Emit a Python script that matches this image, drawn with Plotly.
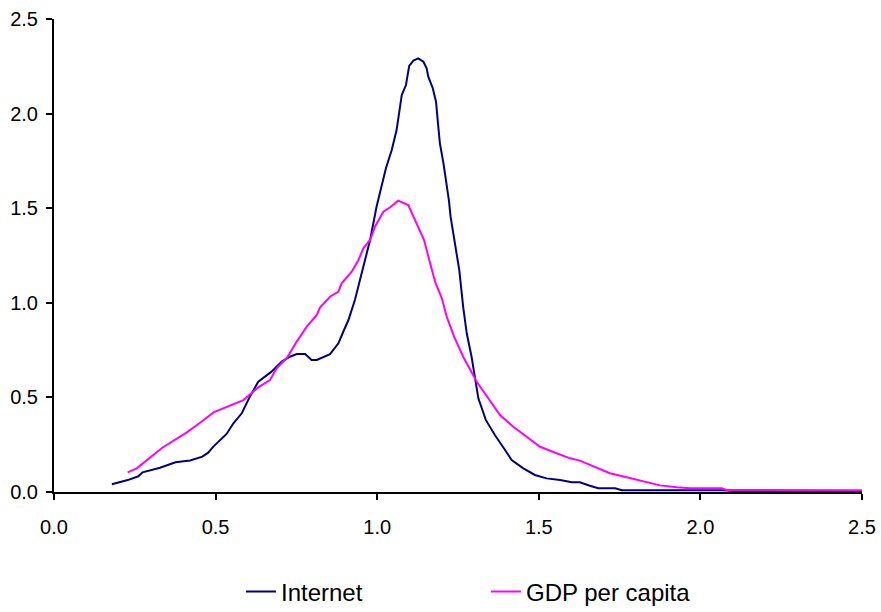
import plotly.graph_objects as go

# Internet
internet_x = [0.179, 0.228, 0.261, 0.274, 0.328, 0.376, 0.421, 0.459, 0.477, 0.493,
              0.534, 0.555, 0.581, 0.606, 0.632, 0.673, 0.705, 0.730, 0.751, 0.777,
              0.797, 0.813, 0.854, 0.880, 0.895, 0.911, 0.931, 0.947, 0.978, 0.998,
              1.019, 1.027, 1.045, 1.060, 1.076, 1.089, 1.099, 1.112, 1.127, 1.143,
              1.153, 1.158, 1.172, 1.182, 1.189, 1.194, 1.205, 1.215, 1.222, 1.227,
              1.241, 1.254, 1.266, 1.277, 1.292, 1.306, 1.313, 1.336, 1.364, 1.392,
              1.416, 1.452, 1.488, 1.524, 1.566, 1.602, 1.627, 1.658, 1.684, 1.736,
              1.757, 2.071, 2.100, 2.500]
internet_y = [0.041, 0.063, 0.083, 0.104, 0.128, 0.157, 0.167, 0.187, 0.208, 0.240,
              0.307, 0.363, 0.416, 0.504, 0.583, 0.636, 0.689, 0.715, 0.729, 0.729,
              0.698, 0.698, 0.729, 0.786, 0.847, 0.909, 1.015, 1.121, 1.332, 1.508,
              1.649, 1.711, 1.808, 1.913, 2.098, 2.151, 2.252, 2.280, 2.292, 2.274,
              2.239, 2.195, 2.134, 2.063, 1.931, 1.843, 1.737, 1.632, 1.540, 1.455,
              1.297, 1.173, 0.979, 0.839, 0.715, 0.583, 0.495, 0.381, 0.301, 0.231,
              0.169, 0.125, 0.090, 0.072, 0.063, 0.051, 0.051, 0.033, 0.020, 0.020,
              0.009, 0.009, 0.005, 0.005]

# GDP per capita
gdp_x = [0.228, 0.256, 0.335, 0.411, 0.452, 0.495, 0.586, 0.632, 0.668, 0.689,
         0.722, 0.751, 0.782, 0.813, 0.823, 0.854, 0.880, 0.890, 0.921, 0.942,
         0.957, 0.978, 0.993, 1.019, 1.040, 1.065, 1.096, 1.117, 1.145, 1.161,
         1.179, 1.200, 1.215, 1.238, 1.266, 1.308, 1.349, 1.380, 1.421, 1.463,
         1.504, 1.555, 1.597, 1.627, 1.669, 1.720, 1.772, 1.823, 1.875, 1.927,
         1.968, 2.066, 2.081, 2.500]
gdp_y = [0.104, 0.125, 0.234, 0.315, 0.366, 0.422, 0.486, 0.553, 0.592, 0.654,
         0.712, 0.795, 0.874, 0.936, 0.975, 1.032, 1.059, 1.103, 1.164, 1.226,
         1.288, 1.332, 1.402, 1.481, 1.505, 1.540, 1.517, 1.438, 1.332, 1.226,
         1.112, 1.024, 0.927, 0.821, 0.715, 0.583, 0.486, 0.407, 0.345, 0.292,
         0.239, 0.205, 0.178, 0.166, 0.134, 0.099, 0.078, 0.055, 0.035, 0.025,
         0.020, 0.020, 0.011, 0.009]

tick_vals = [0.0, 0.5, 1.0, 1.5, 2.0, 2.5]

fig = go.Figure()
fig.add_trace(go.Scatter(x=internet_x, y=internet_y, mode="lines", name="Internet",
                         line=dict(color="#000080", width=2)))
fig.add_trace(go.Scatter(x=gdp_x, y=gdp_y, mode="lines", name="GDP per capita",
                         line=dict(color="#FF00FF", width=2)))

axis_common = dict(
    showgrid=False, zeroline=False, showline=True, linecolor="black", linewidth=2,
    ticks="outside", ticklen=6, tickwidth=2, tickcolor="black",
    tickvals=tick_vals, tickformat=".1f", automargin=False,
    ticklabeloverflow="allow",
    tickfont=dict(family="Liberation Sans, Arial, sans-serif", size=20, color="black"),
)
fig.update_xaxes(range=[0, 2.5], ticklabelstandoff=10, **axis_common)
fig.update_yaxes(range=[0, 2.5], ticklabelstandoff=4, **axis_common)

fig.update_layout(
    width=881, height=612,
    margin=dict(l=54, r=19, t=19, b=120, autoexpand=False),
    paper_bgcolor="white", plot_bgcolor="white",
    showlegend=True,
    legend=dict(orientation="h", x=0.2314, xanchor="left", y=-0.211, yanchor="middle",
                entrywidth=200, entrywidthmode="pixels",
                font=dict(family="Liberation Sans, Arial, sans-serif", size=24, color="black"),
                bgcolor="rgba(0,0,0,0)"),
)

# Remove the page's default body margin so the figure fills the window exactly.
fig.write_html("out.html",
               config={"displayModeBar": False},
               post_script="document.body.style.margin='0';document.body.style.overflow='hidden';")
